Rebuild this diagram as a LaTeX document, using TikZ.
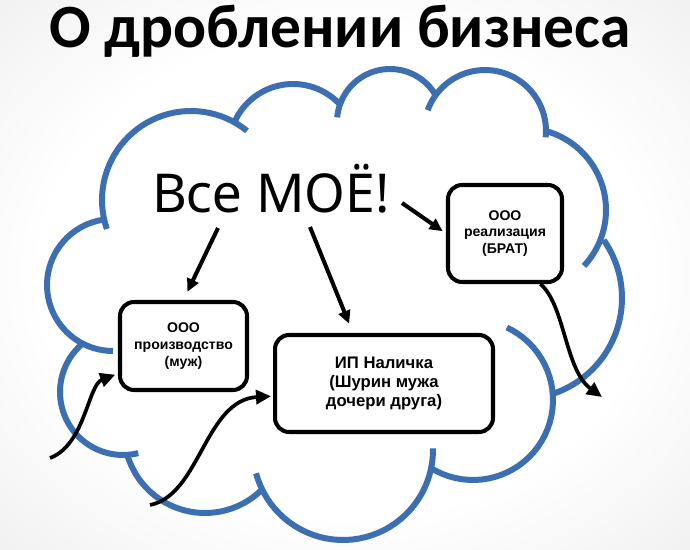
\documentclass[tikz,border=0pt]{standalone}
\usepackage{fontspec}
\setmainfont{Liberation Sans}
\newfontfamily\titlefont{Carlito}
\newfontfamily\handfont{Noto Sans}
\usetikzlibrary{arrows.meta,calc}
\definecolor{cloudblue}{RGB}{60,110,178}
\pgfdeclareradialshading{vignette}{\pgfpoint{0bp}{0bp}}{color(0bp)=(white); color(22bp)=(white); color(42bp)=(black!8); color(50bp)=(black!16); color(71bp)=(black!27)}
\begin{document}
\begin{tikzpicture}[x=0.02cm, y=-0.02cm,
  cloud line/.style={draw=cloudblue, line width=3.4pt},
  box node/.style={draw, line width=2.3pt, rounded corners=0.28cm, align=center, inner sep=0pt, font=\bfseries\fontsize{8}{9.5}\selectfont},
  arr/.style={line width=2.3pt, -{Triangle[length=0.26cm,width=0.24cm]}},
  curve arr/.style={line width=2.1pt, -{Triangle[length=0.3cm,width=0.28cm]}}]
\useasboundingbox (0,0) rectangle (690,550);
\shade [shading=vignette] (0,0) rectangle (690,550);

% cloud, one arc per lobe
\draw [cloud line] plot [domain=90:261, samples=40] ({113+66*cos(\x)}, {285+66*sin(\x)});
\draw [cloud line] plot [domain=76:228, samples=40] ({123+63*cos(\x)}, {392+63*sin(\x)});
\draw [cloud line] plot [domain=46:164, samples=40] ({205+81*cos(\x)}, {432+81*sin(\x)});
\draw [cloud line] plot [domain=-1:165, samples=40] ({343+90*cos(\x)}, {450+90*sin(\x)});
\draw [cloud line] plot [domain=-65:122, samples=40] ({473+80*cos(\x)}, {400+80*sin(\x)});
\draw [cloud line] plot [domain=-35:73, samples=40] ({521+101*cos(\x)}, {298+101*sin(\x)});
\draw [cloud line] plot [domain=-74:43, samples=40] ({524+82*cos(\x)}, {210+82*sin(\x)});
\draw [cloud line] plot [domain=200:366, samples=40] ({485+61*cos(\x)}, {131+61*sin(\x)});
\draw [cloud line] plot [domain=185:328, samples=40] ({390+53*cos(\x)}, {122+53*sin(\x)});
\draw [cloud line] plot [domain=205:319, samples=40] ({293+64*cos(\x)}, {148+64*sin(\x)});
\draw [cloud line] plot [domain=161:309, samples=40] ({191+89*cos(\x)}, {200+89*sin(\x)});

\node [font=\titlefont\bfseries\fontsize{35}{40}\selectfont, anchor=base] (title) at (340,48) {О дроблении бизнеса};
\node [font=\handfont\fontsize{30.5}{34}\selectfont, anchor=base] (moe) at (271,213) {Все МОЁ!};

\node [box node, minimum width=2.28cm, minimum height=1.94cm] (brat) at (505,233.5) {ООО\\реализация\\(БРАТ)};
\node [box node, minimum width=2.54cm, minimum height=1.76cm] (muzh) at (183.5,346) {ООО\\производство\\(муж)};
\node [box node, minimum width=4.36cm, minimum height=1.94cm, font=\bfseries\fontsize{9.5}{10.6}\selectfont] (nal) at (384,383.5) {ИП Наличка\\(Шурин мужа\\дочери друга)};

\coordinate (s1) at (218,228);
\coordinate (s2) at (310,227);
\coordinate (s3) at (402,203);
\coordinate (c4) at (50,458);
\coordinate (c5) at (150,505);
\coordinate (c6) at (602,397);

\draw [arr, shorten >=0.18cm] (s1) -- (muzh.north);
\draw [arr, shorten >=0.2cm] (s2) -- ($(nal.north west)!0.36!(nal.north east)$);
\draw [arr, shorten >=0.08cm] (s3) -- (brat.west);
\draw [curve arr, shorten >=0.06cm] (c4) .. controls (85,445) and (88,385) .. ($(muzh.west)!0.6!(muzh.south west)$);
\draw [curve arr, shorten >=0.04cm] (c5) .. controls (200,495) and (205,400) .. ($(nal.west)!0.25!(nal.south west)$);
\draw [curve arr] ($(brat.south)!0.6!(brat.south east)$) .. controls (565,305) and (565,370) .. (c6);
\end{tikzpicture}
\end{document}
